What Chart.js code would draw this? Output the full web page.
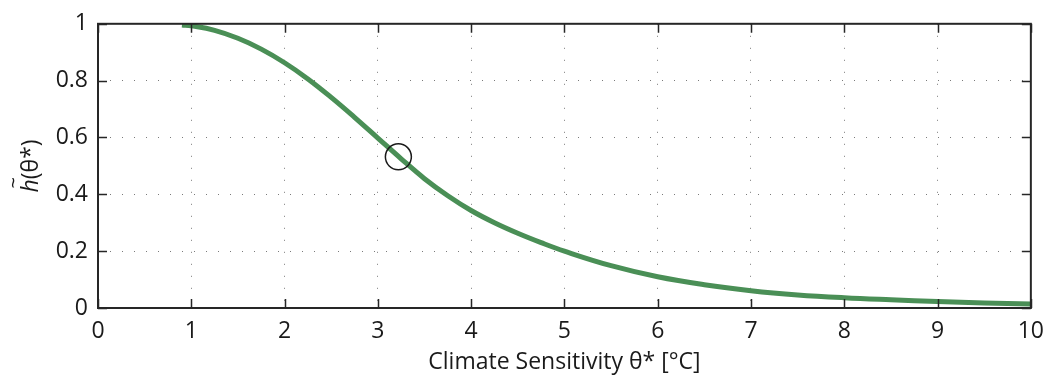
<!DOCTYPE html>
<html>
<head>
<meta charset="utf-8">
<script src="https://cdn.jsdelivr.net/npm/chart.js@4"></script>
<style>
  body { margin: 0; background: #fff; }
  canvas { display: block; }
</style>
</head>
<body>
<canvas id="chart" width="1054" height="381"></canvas>
<script>
// curve
const sensitivity = [0.9, 1, 1.25, 1.5, 1.75, 2, 2.25, 2.5, 2.75, 3, 3.25, 3.5, 3.75, 4, 4.25, 4.5, 4.75, 5, 5.5, 6, 6.5, 7, 7.5, 8, 8.5, 9, 9.5, 10];
const hValues = [0.996, 0.993, 0.977, 0.949, 0.911, 0.863, 0.806, 0.741, 0.671, 0.598, 0.525, 0.455, 0.395, 0.343, 0.3, 0.263, 0.23, 0.2, 0.149, 0.11, 0.082, 0.061, 0.046, 0.036, 0.029, 0.023, 0.018, 0.014];
// circled point
const markerX = [3.22];
const markerY = [0.532];

const xTicks = [0, 1, 2, 3, 4, 5, 6, 7, 8, 9, 10];
const yTicks = [0, 0.2, 0.4, 0.6, 0.8, 1];

const fontFamily = '"Open Sans", sans-serif';

// box round the plot and small inward ticks, like matlab
const boxPlugin = {
    id: 'box',
    afterDatasetsDraw(chart) {
        const { ctx, chartArea: a, scales } = chart;
        ctx.save();
        ctx.strokeStyle = '#262626';
        ctx.lineWidth = 1.5;
        ctx.beginPath();
        xTicks.forEach(v => {
            const px = Math.round(scales.x.getPixelForValue(v)) + 0.5;
            ctx.moveTo(px, a.bottom); ctx.lineTo(px, a.bottom - 9);
            ctx.moveTo(px, a.top); ctx.lineTo(px, a.top + 9);
        });
        yTicks.forEach(v => {
            const py = Math.round(scales.y.getPixelForValue(v)) + 0.5;
            ctx.moveTo(a.left, py); ctx.lineTo(a.left + 9, py);
            ctx.moveTo(a.right, py); ctx.lineTo(a.right - 9, py);
        });
        ctx.stroke();
        ctx.lineWidth = 2;
        ctx.strokeRect(a.left, a.top, a.right - a.left, a.bottom - a.top);
        ctx.restore();
    },
    afterDraw(chart) {
        // y title: italic h with a tilde, then (θ*)
        const { ctx, chartArea: a } = chart;
        ctx.save();
        ctx.translate(30, (a.top + a.bottom) / 2);
        ctx.rotate(-Math.PI / 2);
        ctx.fillStyle = '#1a1a1a';
        ctx.textBaseline = 'alphabetic';
        ctx.font = 'italic 23px ' + fontFamily;
        const hw = ctx.measureText('h').width;
        ctx.font = '23px ' + fontFamily;
        const rest = '(θ*)';
        const rw = ctx.measureText(rest).width;
        const x0 = -(hw + rw) / 2;
        ctx.font = 'italic 23px ' + fontFamily;
        ctx.fillText('h', x0, 8);
        ctx.font = '20px ' + fontFamily;
        ctx.textAlign = 'center';
        ctx.fillText('~', x0 + hw / 2 + 3, -10);
        ctx.textAlign = 'left';
        ctx.font = '23px ' + fontFamily;
        ctx.fillText(rest, x0 + hw, 8);
        ctx.restore();
    }
};

new Chart(document.getElementById('chart'), {
    type: 'scatter',
    data: {
        datasets: [
            {
                data: sensitivity.map((x, i) => ({ x: x, y: hValues[i] })),
                showLine: true,
                borderColor: '#4a8f56',
                borderWidth: 5,
                pointRadius: 0,
                tension: 0.4,
                order: 2
            },
            {
                data: markerX.map((x, i) => ({ x: x, y: markerY[i] })),
                showLine: false,
                pointRadius: 13,
                pointStyle: 'circle',
                pointBackgroundColor: 'rgba(0,0,0,0)',
                pointBorderColor: '#1a1a1a',
                pointBorderWidth: 1.5,
                order: 1
            }
        ]
    },
    options: {
        responsive: false,
        animation: false,
        layout: { padding: { top: 13, right: 19, left: 0, bottom: 0 } },
        plugins: {
            legend: { display: false },
            tooltip: { enabled: false }
        },
        scales: {
            x: {
                type: 'linear',
                min: 0,
                max: 10,
                afterBuildTicks: s => { s.ticks = xTicks.map(v => ({ value: v })); },
                afterFit: s => { s.height = 73; },
                border: { display: false, dash: [1, 11] },
                grid: {
                    color: '#7a7a7a',
                    lineWidth: 1,
                    drawTicks: false
                },
                ticks: {
                    color: '#1a1a1a',
                    padding: 10,
                    font: { family: fontFamily, size: 23 },
                    maxRotation: 0
                },
                title: {
                    display: true,
                    text: 'Climate Sensitivity θ* [°C]',
                    color: '#1a1a1a',
                    font: { family: fontFamily, size: 23 },
                    padding: { top: 0, bottom: 5 }
                }
            },
            y: {
                type: 'linear',
                min: 0,
                max: 1,
                afterBuildTicks: s => { s.ticks = yTicks.map(v => ({ value: v })); },
                afterFit: s => { s.width = 98; },
                border: { display: false, dash: [1, 11] },
                grid: {
                    color: '#7a7a7a',
                    lineWidth: 1,
                    drawTicks: false
                },
                ticks: {
                    color: '#1a1a1a',
                    padding: 10,
                    font: { family: fontFamily, size: 23 },
                    callback: v => String(v)
                }
            }
        }
    },
    plugins: [boxPlugin]
});
</script>
</body>
</html>
